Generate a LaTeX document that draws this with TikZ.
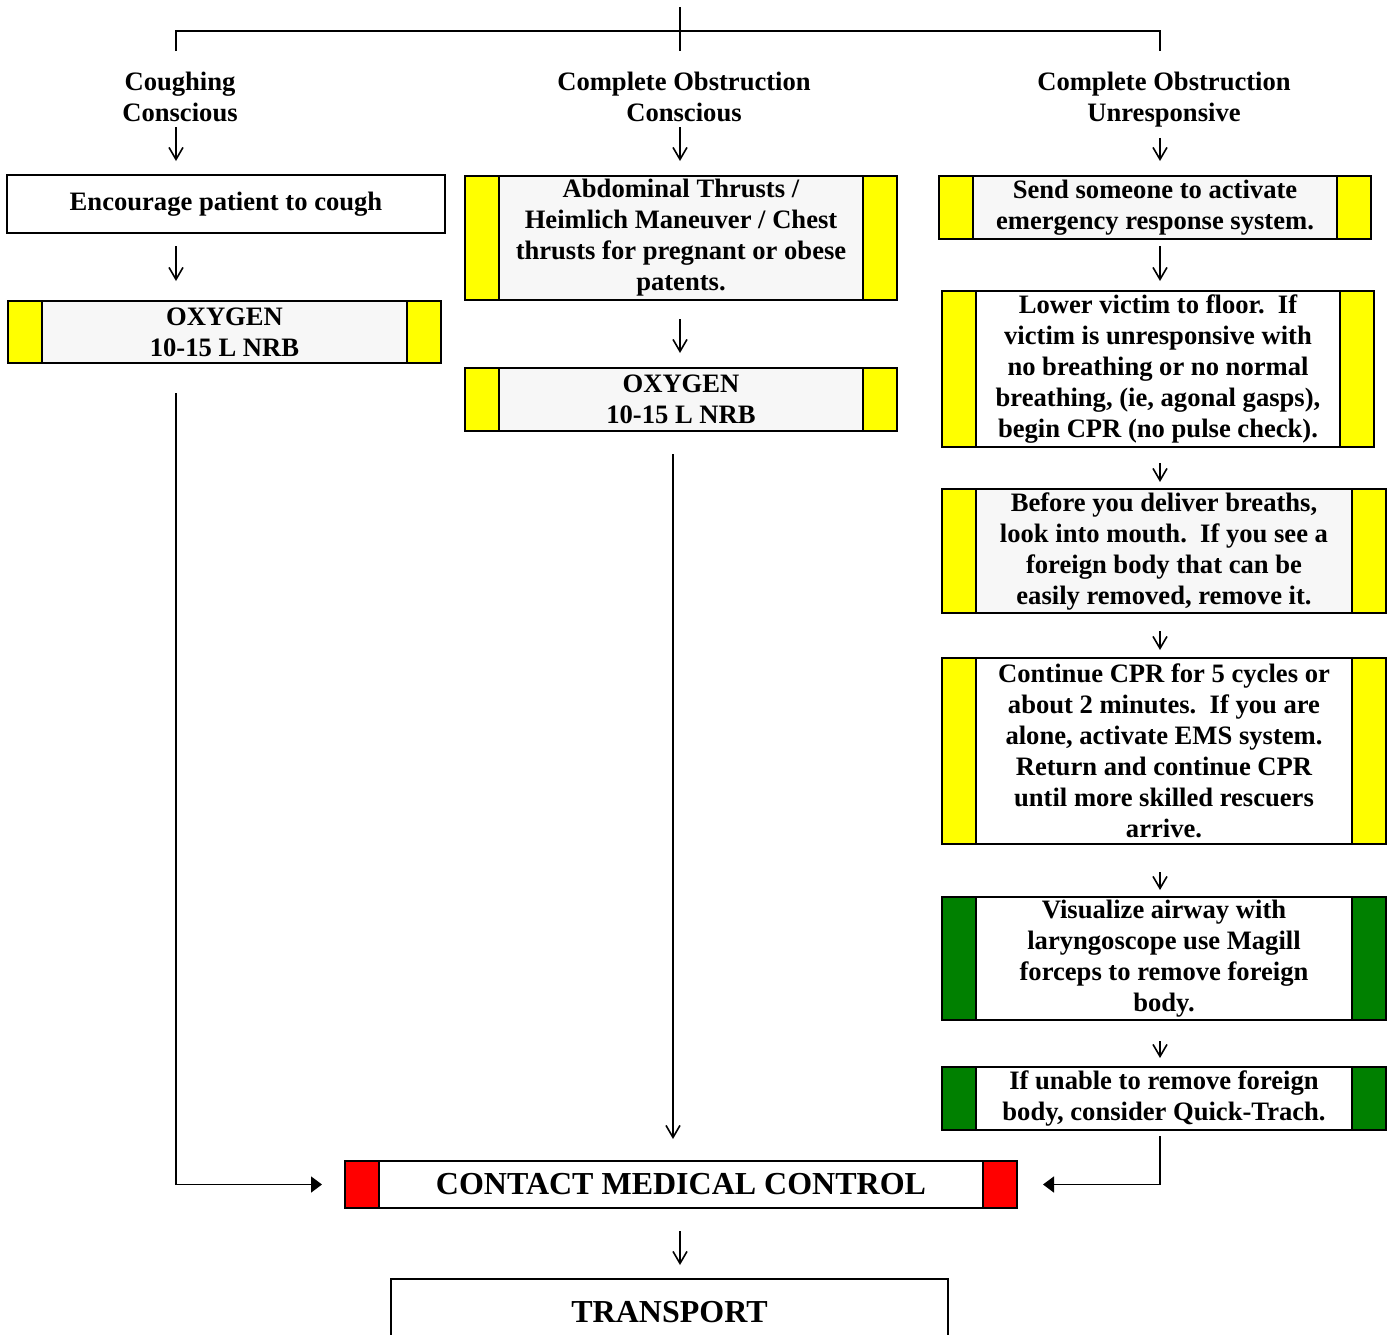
\documentclass[tikz,border=0pt]{standalone}
\usepackage{fontspec}
\setmainfont{Liberation Serif}
\usetikzlibrary{arrows.meta}

\definecolor{barYellow}{RGB}{255,255,0}
\definecolor{barGreen}{RGB}{0,128,0}
\definecolor{barRed}{RGB}{255,0,0}
\definecolor{boxGray}{RGB}{247,247,247}

\begin{document}
\begin{tikzpicture}[x=0.5pt,y=-0.5pt,
  txt/.style={font=\fontsize{13.3}{15.5}\selectfont\bfseries,align=center,inner sep=0pt},
  box/.style={txt,draw,line width=1pt,fill=white},
  big/.style={font=\fontsize{16}{18}\selectfont\bfseries},
  bars/.style={path picture={
    \fill[#1] (path picture bounding box.north west) rectangle ([xshift=17pt]path picture bounding box.south west);
    \fill[#1] (path picture bounding box.north east) rectangle ([xshift=-17pt]path picture bounding box.south east);
    \draw[line width=1pt] ([xshift=17pt]path picture bounding box.north west) -- ([xshift=17pt]path picture bounding box.south west);
    \draw[line width=1pt] ([xshift=-17pt]path picture bounding box.north east) -- ([xshift=-17pt]path picture bounding box.south east);}},
  arr/.style={line width=0.8pt,-{Straight Barb[length=6pt,width=7pt]}},
  merge/.style={line width=0.8pt,-{Triangle[length=5.5pt,width=8pt]}}]
\useasboundingbox (0,0) rectangle (1387,1334);

% top bracket
\coordinate (topT) at (680,7);
\coordinate (topB) at (680,51);
\coordinate (colA) at (176,31);
\coordinate (colC) at (1160,31);
\coordinate (brA) at (176,51);
\coordinate (brC) at (1160,51);
\coordinate (colM) at (673,31);
\draw[line width=0.8pt] (brA) -- (colA) -- (colC) -- (brC);
\draw[line width=0.8pt] (topT) -- (topB);

% headings
\node[txt] (hA) at (180,97) {Coughing\\Conscious};
\node[txt] (hB) at (684,97) {Complete Obstruction\\Conscious};
\node[txt] (hC) at (1164,100) {Complete Obstruction\\Unresponsive};

% left column
\node[box,minimum width=219pt,minimum height=29pt] (enc) at (226,204) {Encourage patient to cough};
\node[box,fill=boxGray,bars=barYellow,minimum width=216.5pt,minimum height=31pt] (oxyA) at (224.5,332) {OXYGEN\\10-15 L NRB};

% middle column
\node[box,fill=boxGray,bars=barYellow,minimum width=216pt,minimum height=62pt] (abd) at (681,238) {Abdominal Thrusts /\\Heimlich Maneuver / Chest\\thrusts for pregnant or obese\\patents.};
\node[box,fill=boxGray,bars=barYellow,minimum width=216pt,minimum height=31.5pt] (oxyB) at (681,399.5) {OXYGEN\\10-15 L NRB};

% right column
\node[box,fill=boxGray,bars=barYellow,minimum width=216pt,minimum height=31.5pt] (send) at (1155,207.5) {Send someone to activate\\emergency response system.};
\node[box,bars=barYellow,minimum width=216pt,minimum height=78pt] (lower) at (1158,369) {Lower victim to floor.\ \ If\\victim is unresponsive with\\no breathing or no normal\\breathing, (ie, agonal gasps),\\begin CPR (no pulse check).};
\node[box,fill=boxGray,bars=barYellow,minimum width=222pt,minimum height=62pt] (before) at (1164,551) {Before you deliver breaths,\\look into mouth.\ \ If you see a\\foreign body that can be\\easily removed, remove it.};
\node[box,bars=barYellow,minimum width=222pt,minimum height=93pt] (cont) at (1164,751) {Continue CPR for 5 cycles or\\about 2 minutes.\ \ If you are\\alone, activate EMS system.\\Return and continue CPR\\until more skilled rescuers\\arrive.};
\node[box,bars=barGreen,minimum width=222pt,minimum height=61.5pt] (visual) at (1164,958.5) {Visualize airway with\\laryngoscope use Magill\\forceps to remove foreign\\body.};
\node[box,bars=barGreen,minimum width=222pt,minimum height=31.5pt] (unable) at (1164,1098.5) {If unable to remove foreign\\body, consider Quick-Trach.};

% bottom
\node[box,big,bars=barRed,minimum width=336pt,minimum height=23.5pt] (contact) at (681,1184.5) {CONTACT MEDICAL CONTROL};
\node[box,big,minimum width=278.5pt,minimum height=33pt] (trans) at (669.5,1312) {TRANSPORT};

% arrows
\draw[arr,shorten <=2.5pt,shorten >=6.5pt] (hA.south -| colA) -- (enc.north -| colA);
\draw[arr,shorten <=2.5pt,shorten >=7pt] (hB.south -| topB) -- (abd.north -| topB);
\draw[arr,shorten <=5pt,shorten >=7pt] (hC.south -| colC) -- (send.north -| colC);
\draw[arr,shorten <=6pt,shorten >=9.5pt] (enc.south -| colA) -- (oxyA.north -| colA);
\draw[arr,shorten <=9pt,shorten >=7pt] (abd.south -| topB) -- (oxyB.north -| topB);
\draw[arr,shorten <=3pt,shorten >=4.5pt] (send.south -| colC) -- (lower.north -| colC);
\draw[arr,shorten <=7.5pt,shorten >=3pt] (lower.south -| colC) -- (before.north -| colC);
\draw[arr,shorten <=8.5pt,shorten >=3.5pt] (before.south -| colC) -- (cont.north -| colC);
\draw[arr,shorten <=13.5pt,shorten >=3pt] (cont.south -| colC) -- (visual.north -| colC);
\draw[arr,shorten <=10pt,shorten >=4pt] (visual.south -| colC) -- (unable.north -| colC);
\draw[arr,shorten <=11pt,shorten >=10.5pt] (oxyB.south -| colM) -- (contact.north -| colM);
\draw[arr,shorten <=11pt,shorten >=6.5pt] (contact.south -| topB) -- (trans.north -| topB);
\draw[merge,shorten <=14.5pt,shorten >=11pt] (oxyA.south -| colA) -- (colA |- contact.west) -- (contact.west);
\draw[merge,shorten <=2.5pt,shorten >=12.5pt] (unable.south -| colC) -- (colC |- contact.east) -- (contact.east);
\end{tikzpicture}
\end{document}
